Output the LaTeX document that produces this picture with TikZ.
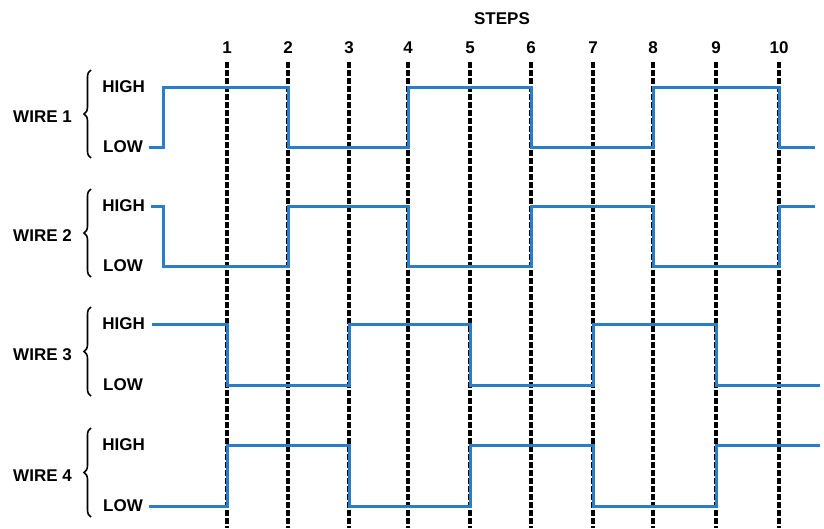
\documentclass[tikz,border=0pt]{standalone}
\usepackage{fontspec}
\setmainfont{Liberation Sans}
\usepackage{tikz}
\usetikzlibrary{decorations.pathreplacing}
\definecolor{wireblue}{HTML}{2A7DC8}
\tikzset{lbl/.style={font=\bfseries\fontsize{17}{17}\selectfont,inner sep=1pt},
  steppin/.style={black,line width=3.2pt,dash pattern=on 5.5pt off 2.5pt},
  sig/.style={wireblue,line width=3pt,line join=miter},
  wbrace/.style={decorate,decoration={brace,amplitude=7pt},line width=1.6pt}}

\begin{document}
\begin{tikzpicture}[x=1pt,y=-1pt]
\useasboundingbox (0,0) rectangle (824,528);
\node[lbl] (steps) at (502,19) {STEPS};
% step lines
\foreach \i/\x in {1/227,2/288,3/349,4/408,5/470,6/531,7/593,8/653,9/716,10/779}{
  \node[lbl] (s\i) at (\x,48) {\i};
  \draw[steppin] ([yshift=-7pt]s\i.south) -- (\x,528);
}
% wire labels
\foreach \n/\h/\l in {1/87/147,2/206/266,3/324/385,4/445/506}{
  \node[lbl,anchor=east] (hi\n) at (146,\h) {HIGH};
  \node[lbl,anchor=east] (lo\n) at (144,\l) {LOW};
  \draw[wbrace] (91,\l+11) -- (91,\h-17);
  \node[lbl,anchor=east] (w\n) at (73,{(\h+\l)/2}) {WIRE \n};
}
% signals
\draw[sig] ([xshift=5pt]lo1.east) -- (163,147) |- (288,87) |- (408,147) |- (531,87) |- (653,147) |- (779,87) |- (815,147);
\draw[sig] ([xshift=5pt]hi2.east) -- (163,206) |- (288,266) |- (408,206) |- (531,266) |- (653,206) |- (779,266) |- (815,206);
\draw[sig] ([xshift=6pt]hi3.east) -- (227,324) |- (349,385) |- (470,324) |- (593,385) |- (716,324) |- (820,385);
\draw[sig] ([xshift=5pt]lo4.east) -- (227,506) |- (349,445) |- (470,506) |- (593,445) |- (716,506) |- (820,445);
\end{tikzpicture}
\end{document}
